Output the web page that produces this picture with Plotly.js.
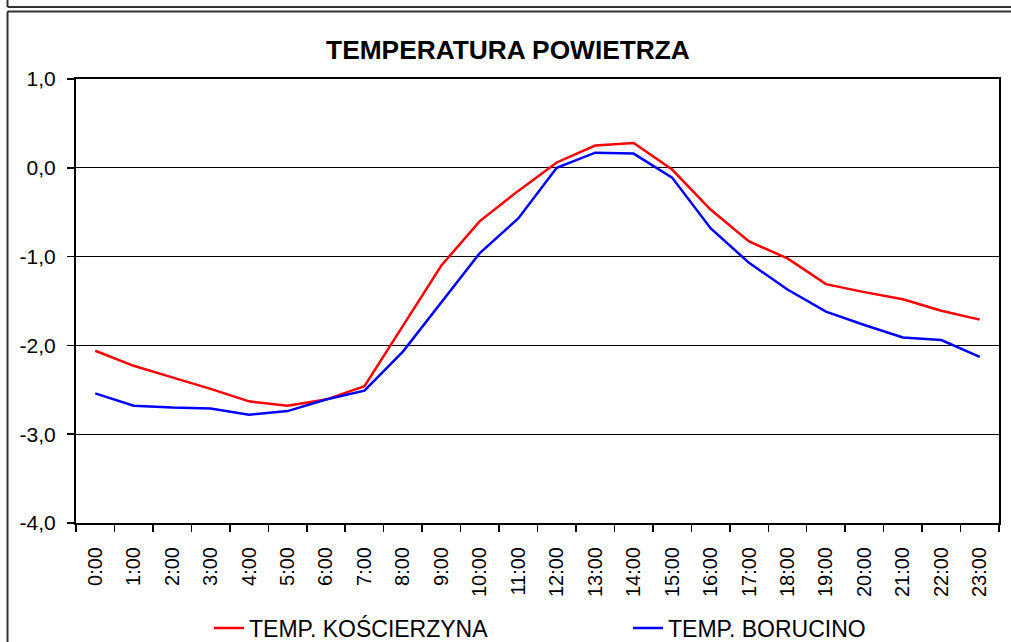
<!DOCTYPE html>
<html>
<head>
<meta charset="utf-8">
<script src="https://cdn.plot.ly/plotly-3.0.1.min.js"></script>
<style>
  html, body { margin: 0; padding: 0; background: #fff; }
  #chart { width: 1011px; height: 642px; }
</style>
</head>
<body>
<div id="chart"></div>
<script>
const hours = ["0:00","1:00","2:00","3:00","4:00","5:00","6:00","7:00","8:00","9:00","10:00","11:00",
               "12:00","13:00","14:00","15:00","16:00","17:00","18:00","19:00","20:00","21:00","22:00","23:00"];
const tempKoscierzyna = [-2.06,-2.23,-2.36,-2.49,-2.63,-2.68,-2.61,-2.46,-1.78,-1.10,-0.60,-0.26,
                         0.06,0.25,0.28,-0.02,-0.47,-0.83,-1.02,-1.31,-1.40,-1.48,-1.61,-1.71];
const tempBorucino = [-2.54,-2.68,-2.70,-2.71,-2.78,-2.74,-2.61,-2.51,-2.07,-1.51,-0.96,-0.57,
                      0.00,0.17,0.16,-0.11,-0.68,-1.07,-1.37,-1.62,-1.77,-1.91,-1.94,-2.13];
const yTickVals = [1, 0, -1, -2, -3, -4];
const yTickText = ["1,0", "0,0", "-1,0", "-2,0", "-3,0", "-4,0"];
const seriesNames = ["TEMP. KOŚCIERZYNA", "TEMP. BORUCINO"];
const chartTitle = "TEMPERATURA POWIETRZA";

const FONT = "Arial, 'Liberation Sans', sans-serif";
const W = 1011, H = 642;

const traces = [
  { x: hours, y: tempKoscierzyna, name: seriesNames[0], type: "scatter", mode: "lines",
    line: { color: "#FF0000", width: 2.5 }, legend: "legend" },
  { x: hours, y: tempBorucino, name: seriesNames[1], type: "scatter", mode: "lines",
    line: { color: "#0000FF", width: 2.5 }, legend: "legend2" }
];

// plot area in pixels: x 76..999, y 79..523
const L = 76, R = 999, T = 79, B = 523;
const px = v => (v - L) / (R - L);
const py = v => (B - v) / (B - T);

const frameLine = { color: "#333", width: 2 };
const shapes = [
  { type: "line", xref: "paper", yref: "paper", x0: px(7.5), x1: px(7.5), y0: py(-2), y1: py(7), line: frameLine },
  { type: "line", xref: "paper", yref: "paper", x0: px(7.5), x1: px(1015), y0: py(7), y1: py(7), line: frameLine },
  { type: "line", xref: "paper", yref: "paper", x0: px(7.5), x1: px(1015), y0: py(11.5), y1: py(11.5), line: frameLine },
  { type: "line", xref: "paper", yref: "paper", x0: px(7.5), x1: px(7.5), y0: py(11.5), y1: py(650), line: frameLine }
];

const legendCommon = {
  orientation: "h", xanchor: "left", yanchor: "middle", xref: "container", yref: "container",
  font: { family: FONT, size: 23, color: "#000" }, bgcolor: "rgba(0,0,0,0)", borderwidth: 0
};

const layout = {
  width: W, height: H,
  margin: { l: L, r: W - R, t: T, b: H - B, pad: 0 },
  paper_bgcolor: "#fff", plot_bgcolor: "#fff",
  font: { family: FONT, color: "#000", size: 20 },
  title: { text: "<b>" + chartTitle + "</b>", font: { family: FONT, size: 26.3, color: "#000" },
           x: 508 / W, xanchor: "center", xref: "container", y: 1 - 50 / H, yanchor: "middle", yref: "container" },
  showlegend: true,
  legend: Object.assign({}, legendCommon, { x: 209 / W, y: 1 - 628 / H }),
  legend2: Object.assign({}, legendCommon, { x: 628 / W, y: 1 - 628 / H }),
  xaxis: {
    type: "category", range: [-0.5, 23.5], tickangle: -90,
    showline: true, linecolor: "#000", linewidth: 2, mirror: true,
    ticks: "outside", ticklen: 7, tickcolor: "#000", tickwidth: 1.5, tickson: "boundaries",
    ticklabelstandoff: 14,
    showgrid: false, zeroline: false, automargin: false,
    tickfont: { family: FONT, size: 20, color: "#000" }
  },
  yaxis: {
    range: [-4, 1], tickvals: yTickVals, ticktext: yTickText,
    showline: true, linecolor: "#000", linewidth: 2, mirror: true,
    ticks: "outside", ticklen: 7, tickcolor: "#000", tickwidth: 1.5,
    ticklabelstandoff: 7,
    showgrid: true, gridcolor: "#000", gridwidth: 1.2, zeroline: false, automargin: false,
    tickfont: { family: FONT, size: 21, color: "#000" }
  },
  shapes: shapes
};

Plotly.newPlot("chart", traces, layout, { staticPlot: true, displayModeBar: false });
</script>
</body>
</html>
